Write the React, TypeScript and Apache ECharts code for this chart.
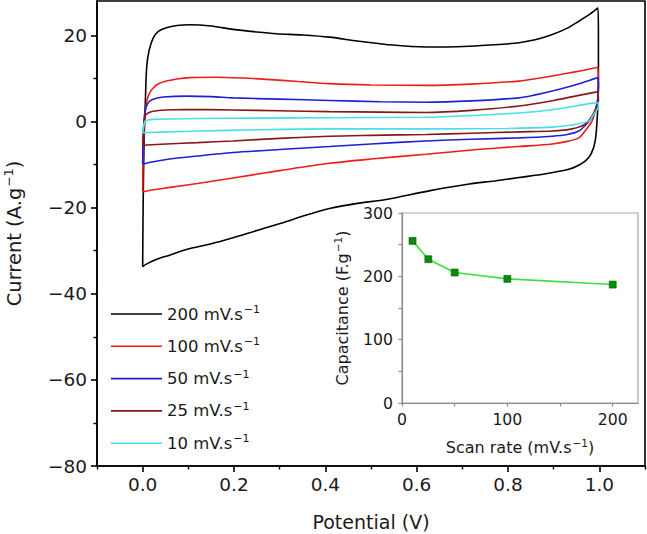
import React, { useEffect, useRef } from "react";
import * as echarts from "echarts";

const FONT = "DejaVu Sans";

// Scan rates (legend) and colours
const scanRates = ["200", "100", "50", "25", "10"];
const curveColors = ["#000000", "#ee1c1c", "#1f1fd6", "#861818", "#45e0e8"];

// Cyclic voltammograms [potential V, current A/g]
const cv200: number[][] = [
  [0, -33.7], [0.001, -20], [0.003, -5], [0.006, 5], [0.0087, 12.5], [0.014, 16.5], [0.023, 19.4],
  [0.035, 21], [0.052, 21.8], [0.075, 22.3], [0.103, 22.5], [0.15, 22.2], [0.198, 21.4], [0.25, 20.8],
  [0.293, 20.4], [0.35, 20.1], [0.409, 19.6], [0.47, 18.7], [0.533, 17.9], [0.62, 17.3], [0.715, 17.5],
  [0.78, 17.9], [0.824, 18.3], [0.87, 19.3], [0.897, 20.2], [0.93, 21.7], [0.955, 23.3], [0.98, 25],
  [0.997, 26.4],
  [0.998, 20], [0.998, 10], [0.996, 2], [0.991, -4.5], [0.982, -7.5], [0.969, -9.2], [0.95, -10.4],
  [0.933, -11.1], [0.88, -12.2], [0.824, -13], [0.77, -13.8], [0.715, -14.5], [0.627, -16.1],
  [0.533, -18.1], [0.47, -19], [0.409, -20.2], [0.35, -22], [0.307, -23.5], [0.25, -25.3], [0.198, -27],
  [0.15, -28.4], [0.096, -29.7], [0.06, -31], [0.031, -32], [0.01, -33], [0, -33.7],
];
const cv100: number[][] = [
  [0, -16.3], [0.001, -8], [0.003, -2], [0.006, 2.5], [0.009, 4.8], [0.015, 6.6], [0.023, 7.8],
  [0.035, 8.8], [0.052, 9.4], [0.075, 9.9], [0.103, 10.2], [0.162, 10.3], [0.22, 10.1], [0.271, 9.8],
  [0.34, 9.3], [0.409, 8.8], [0.5, 8.5], [0.62, 8.4], [0.72, 8.7], [0.824, 9.4], [0.87, 10.1],
  [0.897, 10.6], [0.95, 11.6], [0.997, 12.6],
  [0.998, 8], [0.996, 4.8], [0.99, 2], [0.984, 0.1], [0.97, -2], [0.955, -3.8], [0.93, -4.6],
  [0.897, -5.2], [0.824, -5.8], [0.72, -6.6], [0.62, -7.6], [0.5, -8.7], [0.409, -9.7], [0.3, -11.4],
  [0.198, -13.1], [0.12, -14.4], [0.052, -15.4], [0.02, -15.9], [0, -16.3],
];
const cv50: number[][] = [
  [0, -9.9], [0.001, -4], [0.003, 0], [0.005, 2.4], [0.01, 4], [0.016, 4.8], [0.03, 5.4], [0.045, 5.7],
  [0.096, 5.9], [0.15, 5.8], [0.198, 5.5], [0.3, 5.2], [0.409, 4.9], [0.52, 4.6], [0.62, 4.5],
  [0.72, 4.8], [0.824, 5.5], [0.86, 6.2], [0.897, 7.1], [0.95, 8.6], [0.997, 10.2],
  [0.998, 8], [0.997, 5.5], [0.992, 2.8], [0.984, 0.9], [0.97, -0.8], [0.955, -2.2], [0.93, -3],
  [0.897, -3.4], [0.824, -3.8], [0.72, -4.1], [0.62, -4.5], [0.5, -5.2], [0.409, -5.8], [0.3, -6.5],
  [0.198, -7.2], [0.12, -8], [0.052, -8.8], [0.02, -9.4], [0, -9.9],
];
const cv25: number[][] = [
  [0, -5.5], [0.002, -2], [0.005, 1.3], [0.012, 2], [0.023, 2.4], [0.05, 2.7], [0.088, 2.8],
  [0.198, 2.7], [0.3, 2.5], [0.409, 2.3], [0.52, 2.2], [0.62, 2.1], [0.72, 2.6], [0.824, 3.6],
  [0.9, 4.9], [0.997, 6.9],
  [0.998, 5], [0.996, 4], [0.985, 1.5], [0.969, -0.6], [0.94, -1.7], [0.897, -2.2], [0.824, -2.4],
  [0.72, -2.7], [0.62, -3], [0.5, -3.2], [0.409, -3.4], [0.3, -3.9], [0.198, -4.5], [0.12, -4.9],
  [0.052, -5.2], [0, -5.5],
];
const cv10: number[][] = [
  [0, -2.6], [0.002, -1.3], [0.005, 0.1], [0.012, 0.35], [0.023, 0.5], [0.06, 0.6], [0.125, 0.7],
  [0.25, 0.8], [0.409, 0.9], [0.62, 1.0], [0.72, 1.4], [0.824, 2.0], [0.9, 2.8], [0.997, 4.4],
  [0.998, 3.5], [0.995, 2.8], [0.985, 1.2], [0.977, 0.1], [0.94, -0.8], [0.897, -1.3], [0.8, -1.6],
  [0.62, -1.7], [0.409, -1.7], [0.25, -1.9], [0.125, -2.2], [0.05, -2.4], [0, -2.6],
];
const cvData = [cv200, cv100, cv50, cv25, cv10];

// Inset: capacitance vs scan rate
const insetScanRate = [10, 25, 50, 100, 200];
const insetCapacitance = [256, 227, 206, 196, 187];

// Tick values
const mainXMajor = [0, 0.2, 0.4, 0.6, 0.8, 1.0];
const mainXMinor = [-0.1, 0.1, 0.3, 0.5, 0.7, 0.9, 1.1];
const mainYMajor = [-80, -60, -40, -20, 0, 20];
const mainYMinor = [-70, -50, -30, -10, 10];
const insetXTicks = [0, 50, 100, 150, 200];
const insetXLabels = [0, 100, 200];
const insetYTicks = [0, 50, 100, 150, 200, 250, 300];
const insetYLabels = [0, 100, 200, 300];

const SUP = "\u2212" + "1";
const TXT = "#1a1a1a";
const mkRich = (size: number, supSize: number, lh: number) => ({
  n: { fontFamily: FONT, fontSize: size, color: TXT, lineHeight: lh },
  s: { fontFamily: FONT, fontSize: supSize, color: TXT, lineHeight: lh - Math.round(size * 0.55), padding: [0, 0, Math.round(size * 0.55), 1] },
});

export default function App() {
  const ref = useRef<HTMLDivElement>(null);
  useEffect(() => {
    if (!ref.current) return;
    const chart = echarts.init(ref.current, null, { renderer: "svg" });
    const axisLabelStyle = { fontFamily: FONT, fontSize: 18.5, color: TXT };
    const insetLabelStyle = { fontFamily: FONT, fontSize: 15.7, color: TXT };

    const option: any = {
      animation: false,
      backgroundColor: "#ffffff",
      textStyle: { fontFamily: FONT },
      grid: [
        { left: 97, top: 1, width: 548, height: 465, show: true, borderColor: "#000", borderWidth: 1.6, backgroundColor: "transparent", containLabel: false, outerBoundsMode: "none" },
        { left: 402, top: 213, width: 236, height: 190, show: true, borderColor: "#a8a8a8", borderWidth: 1.2, backgroundColor: "#ffffff", containLabel: false, outerBoundsMode: "none", z: 5 },
      ],
      legend: {
        orient: "vertical",
        left: 106,
        top: 299,
        icon: "rect",
        itemWidth: 51,
        itemHeight: 1.6,
        itemGap: 12.3,
        data: scanRates.map((r) => `${r} mV.s⁻¹`),
        formatter: (name: string) => `{n|${name.replace("⁻¹", "")}}{s|${SUP}}`,
        textStyle: { rich: mkRich(16.5, 11, 22), padding: [0, 0, 0, 0] },
      },
      xAxis: [
        {
          type: "value", gridIndex: 0, min: -0.1, max: 1.1, position: "bottom",
          axisLine: { show: true, onZero: false, lineStyle: { color: "#000", width: 1.6 } },
          axisTick: { show: true, inside: false, length: 6, customValues: mainXMajor, lineStyle: { color: "#000", width: 1.6 } },
          axisLabel: { customValues: mainXMajor, formatter: (v: number) => v.toFixed(1), margin: 9, ...axisLabelStyle },
          splitLine: { show: false },
          name: "Potential (V)", nameLocation: "middle", nameGap: 46,
          nameTextStyle: { fontFamily: FONT, fontSize: 19, color: TXT },
        },
        {
          type: "value", gridIndex: 0, min: -0.1, max: 1.1, position: "bottom",
          axisLine: { show: false, onZero: false },
          axisTick: { show: true, inside: false, length: 3.5, customValues: mainXMinor, lineStyle: { color: "#000", width: 1.4 } },
          axisLabel: { show: false },
          splitLine: { show: false },
        },
        {
          type: "value", gridIndex: 1, min: 0, max: 224, position: "bottom",
          axisLine: { show: true, onZero: false, lineStyle: { color: "#8a8a8a", width: 1.2 } },
          axisTick: { show: true, inside: false, length: 3.5, customValues: insetXTicks, lineStyle: { color: "#8a8a8a", width: 1.2 } },
          axisLabel: { customValues: insetXLabels, margin: 8, ...insetLabelStyle },
          splitLine: { show: false },
          name: `{n|Scan rate (mV.s}{s|${SUP}}{n|)}`, nameLocation: "middle", nameGap: 34,
          nameTextStyle: { rich: mkRich(16, 10.5, 20) },
          z: 6,
        },
      ],
      yAxis: [
        {
          type: "value", gridIndex: 0, min: -80, max: 28, position: "left",
          axisLine: { show: true, onZero: false, lineStyle: { color: "#000", width: 1.6 } },
          axisTick: { show: true, inside: false, length: 6, customValues: mainYMajor, lineStyle: { color: "#000", width: 1.6 } },
          axisLabel: { customValues: mainYMajor, formatter: (v: number) => (v < 0 ? "\u2212" + Math.abs(v) : String(v)), margin: 10, ...axisLabelStyle },
          splitLine: { show: false },
          name: `{n|Current (A.g}{s|${SUP}}{n|)}`, nameLocation: "middle", nameGap: 71,
          nameTextStyle: { rich: mkRich(19.5, 12.5, 24) },
        },
        {
          type: "value", gridIndex: 0, min: -80, max: 28, position: "left",
          axisLine: { show: false, onZero: false },
          axisTick: { show: true, inside: false, length: 3.5, customValues: mainYMinor, lineStyle: { color: "#000", width: 1.4 } },
          axisLabel: { show: false },
          splitLine: { show: false },
        },
        {
          type: "value", gridIndex: 1, min: 0, max: 300, position: "left",
          axisLine: { show: true, onZero: false, lineStyle: { color: "#8a8a8a", width: 1.2 } },
          axisTick: { show: true, inside: false, length: 3.5, customValues: insetYTicks, lineStyle: { color: "#8a8a8a", width: 1.2 } },
          axisLabel: { customValues: insetYLabels, margin: 9, ...insetLabelStyle },
          splitLine: { show: false },
          name: `{n|Capacitance (F.g}{s|${SUP}}{n|)}`, nameLocation: "middle", nameGap: 50,
          nameTextStyle: { rich: mkRich(16, 10.5, 20) },
          z: 6,
        },
      ],
      series: [
        ...cvData.map((d, i) => ({
          type: "line",
          name: `${scanRates[i]} mV.s⁻¹`,
          xAxisIndex: 0,
          yAxisIndex: 0,
          data: d,
          symbol: "none",
          showSymbol: false,
          smooth: 0.3,
          lineStyle: { color: curveColors[i], width: 1.6 },
          itemStyle: { color: curveColors[i] },
          z: 2 + i,
        })),
        {
          type: "line",
          name: "Capacitance",
          xAxisIndex: 2,
          yAxisIndex: 2,
          data: insetScanRate.map((x, i) => [x, insetCapacitance[i]]),
          symbol: "rect",
          symbolSize: 7,
          lineStyle: { color: "#3de03d", width: 1.6 },
          itemStyle: { color: "#0c8a0c", borderColor: "#06600a", borderWidth: 0.6 },
          z: 10,
        },
      ],
    };
    chart.setOption(option);
    return () => chart.dispose();
  }, []);
  return <div ref={ref} style={{ position: "absolute", left: 0, top: 0, width: 647, height: 534 }} />;
}
